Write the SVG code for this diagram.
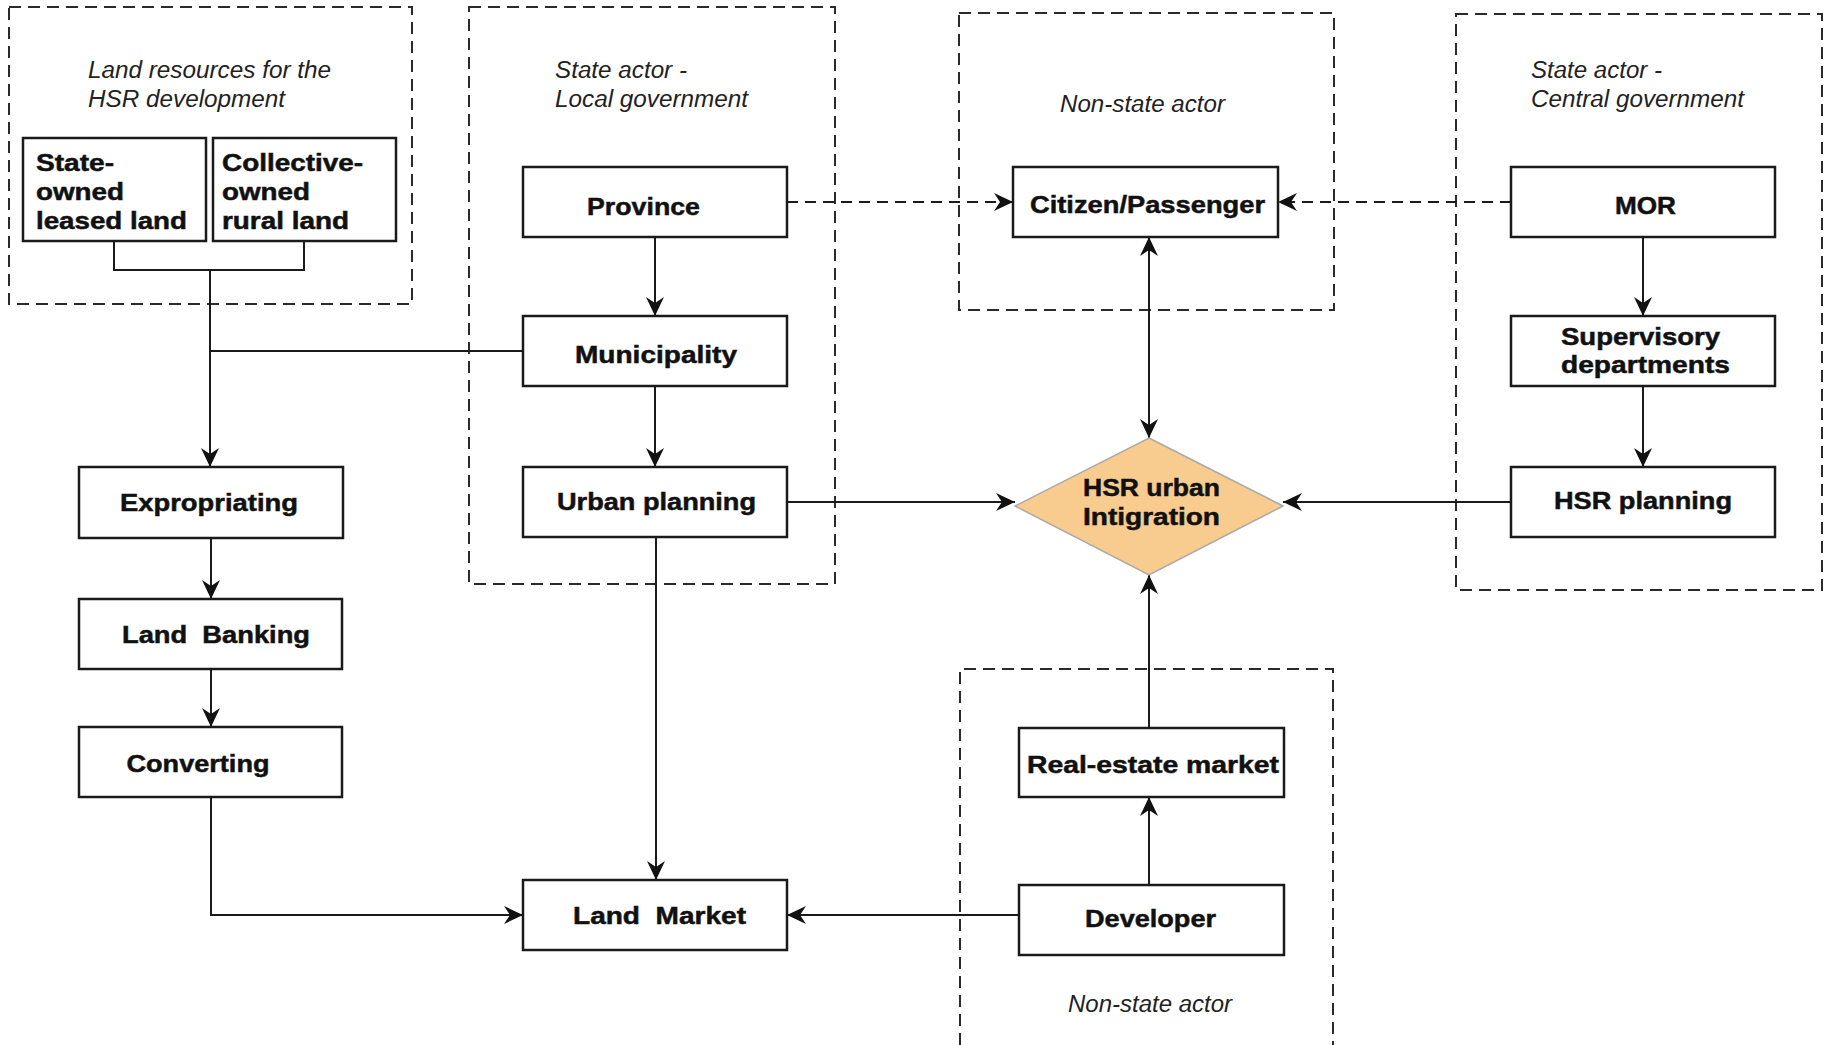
<svg xmlns="http://www.w3.org/2000/svg" width="1825" height="1045" viewBox="0 0 1825 1045">
<style>
.bg{fill:#ffffff}
.grp{fill:none;stroke:#2a2a2a;stroke-width:2;stroke-dasharray:12 7}
.box{fill:#ffffff;stroke:#1a1a1a;stroke-width:2.5}
.dia{fill:#F8CB8E;stroke:#a9a9a9;stroke-width:1.5}
.lbl{font-family:"Liberation Sans",Arial,sans-serif;font-weight:bold;font-size:24px;fill:#111111;stroke:#111111;stroke-width:0.5}
.cap{font-family:"Liberation Sans",Arial,sans-serif;font-style:italic;font-size:23px;fill:#222222}
.c{text-anchor:middle}
.ln{fill:none;stroke:#1a1a1a;stroke-width:2}
.dl{fill:none;stroke:#1a1a1a;stroke-width:2;stroke-dasharray:11 7}
.arr{marker-end:url(#ah)}
</style>
<defs>
<marker id="ah" viewBox="0 0 19 18" refX="19" refY="9" markerWidth="19" markerHeight="18" markerUnits="userSpaceOnUse" orient="auto-start-reverse">
<path d="M0,0 L19,9 L0,18 L6,9 Z" fill="#111111"/>
</marker>
</defs>
<rect class="bg" x="0" y="0" width="1825" height="1045"/>

<g id="groups">
<rect id="grp-land" class="grp" x="9" y="7" width="403" height="297"/>
<rect id="grp-local" class="grp" x="469" y="7" width="366" height="577"/>
<rect id="grp-nonstate-top" class="grp" x="959" y="13" width="375" height="297"/>
<rect id="grp-central" class="grp" x="1456" y="14" width="366" height="576"/>
<path id="grp-nonstate-bottom" class="grp" d="M960 1045 V669 H1333 V1045"/>
<text class="cap" x="88" y="78" textLength="243" lengthAdjust="spacingAndGlyphs">Land resources for the</text>
<text class="cap" x="88" y="107" textLength="197" lengthAdjust="spacingAndGlyphs">HSR development</text>
<text class="cap" x="555" y="78" textLength="132" lengthAdjust="spacingAndGlyphs">State actor -</text>
<text class="cap" x="555" y="107" textLength="193" lengthAdjust="spacingAndGlyphs">Local government</text>
<text class="cap" x="1060" y="112" textLength="165" lengthAdjust="spacingAndGlyphs">Non-state actor</text>
<text class="cap" x="1531" y="78" textLength="131" lengthAdjust="spacingAndGlyphs">State actor -</text>
<text class="cap" x="1531" y="107" textLength="213" lengthAdjust="spacingAndGlyphs">Central government</text>
<text class="cap" x="1068" y="1012" textLength="164" lengthAdjust="spacingAndGlyphs">Non-state actor</text>
</g>

<g id="connectors">
<path class="ln" d="M114 241 V270 H304 V241"/>
<path class="ln arr" d="M210 270 V467"/>
<path class="ln" d="M523 351 H210"/>
<path class="ln arr" d="M655 237 V316"/>
<path class="ln arr" d="M655 386 V467"/>
<path class="ln arr" d="M656 537 V880"/>
<path class="ln arr" d="M787 502 H1015"/>
<path class="ln arr" d="M1511 502 H1283"/>
<path class="ln arr" d="M1643 237 V316"/>
<path class="ln arr" d="M1643 386 V467"/>
<path class="ln arr" d="M1149 237 V438" marker-start="url(#ah)"/>
<path class="ln arr" d="M1149 728 V575"/>
<path class="ln arr" d="M1149 885 V797"/>
<path class="ln arr" d="M1019 915 H787"/>
<path class="ln arr" d="M211 797 V915 H523"/>
<path class="ln arr" d="M211 538 V599"/>
<path class="ln arr" d="M211 669 V727"/>
<path class="dl arr" d="M787 202 H1013"/>
<path class="dl arr" d="M1511 202 H1278"/>
</g>

<g id="node-state-owned">
<rect class="box" x="23" y="138" width="183" height="103"/>
<text class="lbl" x="36" y="171" textLength="78" lengthAdjust="spacingAndGlyphs">State-</text>
<text class="lbl" x="36" y="200" textLength="88" lengthAdjust="spacingAndGlyphs">owned</text>
<text class="lbl" x="36" y="229" textLength="151" lengthAdjust="spacingAndGlyphs">leased land</text>
</g>
<g id="node-collective-owned">
<rect class="box" x="213" y="138" width="183" height="103"/>
<text class="lbl" x="222" y="171" textLength="141" lengthAdjust="spacingAndGlyphs">Collective-</text>
<text class="lbl" x="222" y="200" textLength="88" lengthAdjust="spacingAndGlyphs">owned</text>
<text class="lbl" x="222" y="229" textLength="127" lengthAdjust="spacingAndGlyphs">rural land</text>
</g>
<g id="node-province">
<rect class="box" x="523" y="167" width="264" height="70"/>
<text class="lbl c" x="643.5" y="215" textLength="113" lengthAdjust="spacingAndGlyphs">Province</text>
</g>
<g id="node-municipality">
<rect class="box" x="523" y="316" width="264" height="70"/>
<text class="lbl c" x="656" y="363" textLength="162" lengthAdjust="spacingAndGlyphs">Municipality</text>
</g>
<g id="node-urban-planning">
<rect class="box" x="523" y="467" width="264" height="70"/>
<text class="lbl c" x="656.5" y="510" textLength="199" lengthAdjust="spacingAndGlyphs">Urban planning</text>
</g>
<g id="node-expropriating">
<rect class="box" x="79" y="467" width="264" height="71"/>
<text class="lbl c" x="209" y="511" textLength="178" lengthAdjust="spacingAndGlyphs">Expropriating</text>
</g>
<g id="node-land-banking">
<rect class="box" x="79" y="599" width="263" height="70"/>
<text class="lbl c" x="216" y="643" textLength="188" lengthAdjust="spacingAndGlyphs" xml:space="preserve">Land  Banking</text>
</g>
<g id="node-converting">
<rect class="box" x="79" y="727" width="263" height="70"/>
<text class="lbl c" x="198" y="772" textLength="143" lengthAdjust="spacingAndGlyphs">Converting</text>
</g>
<g id="node-land-market">
<rect class="box" x="523" y="880" width="264" height="70"/>
<text class="lbl c" x="659.5" y="924" textLength="173" lengthAdjust="spacingAndGlyphs" xml:space="preserve">Land  Market</text>
</g>
<g id="node-citizen">
<rect class="box" x="1013" y="167" width="265" height="70"/>
<text class="lbl c" x="1147.5" y="213" textLength="235" lengthAdjust="spacingAndGlyphs">Citizen/Passenger</text>
</g>
<g id="node-mor">
<rect class="box" x="1511" y="167" width="264" height="70"/>
<text class="lbl c" x="1645.5" y="214" textLength="61" lengthAdjust="spacingAndGlyphs">MOR</text>
</g>
<g id="node-supervisory">
<rect class="box" x="1511" y="316" width="264" height="70"/>
<text class="lbl" x="1561" y="345" textLength="159" lengthAdjust="spacingAndGlyphs">Supervisory</text>
<text class="lbl" x="1561" y="373" textLength="169" lengthAdjust="spacingAndGlyphs">departments</text>
</g>
<g id="node-hsr-planning">
<rect class="box" x="1511" y="467" width="264" height="70"/>
<text class="lbl c" x="1643" y="509" textLength="178" lengthAdjust="spacingAndGlyphs">HSR planning</text>
</g>
<g id="node-hsr-integration">
<polygon class="dia" points="1149,438 1283,506 1149,575 1015,506"/>
<text class="lbl c" x="1151.5" y="496" textLength="137" lengthAdjust="spacingAndGlyphs">HSR urban</text>
<text class="lbl c" x="1151.5" y="525" textLength="137" lengthAdjust="spacingAndGlyphs">Intigration</text>
</g>
<g id="node-real-estate">
<rect class="box" x="1019" y="728" width="265" height="69"/>
<text class="lbl c" x="1153" y="773" textLength="252" lengthAdjust="spacingAndGlyphs">Real-estate market</text>
</g>
<g id="node-developer">
<rect class="box" x="1019" y="885" width="265" height="70"/>
<text class="lbl c" x="1150.5" y="927" textLength="131" lengthAdjust="spacingAndGlyphs">Developer</text>
</g>
</svg>
